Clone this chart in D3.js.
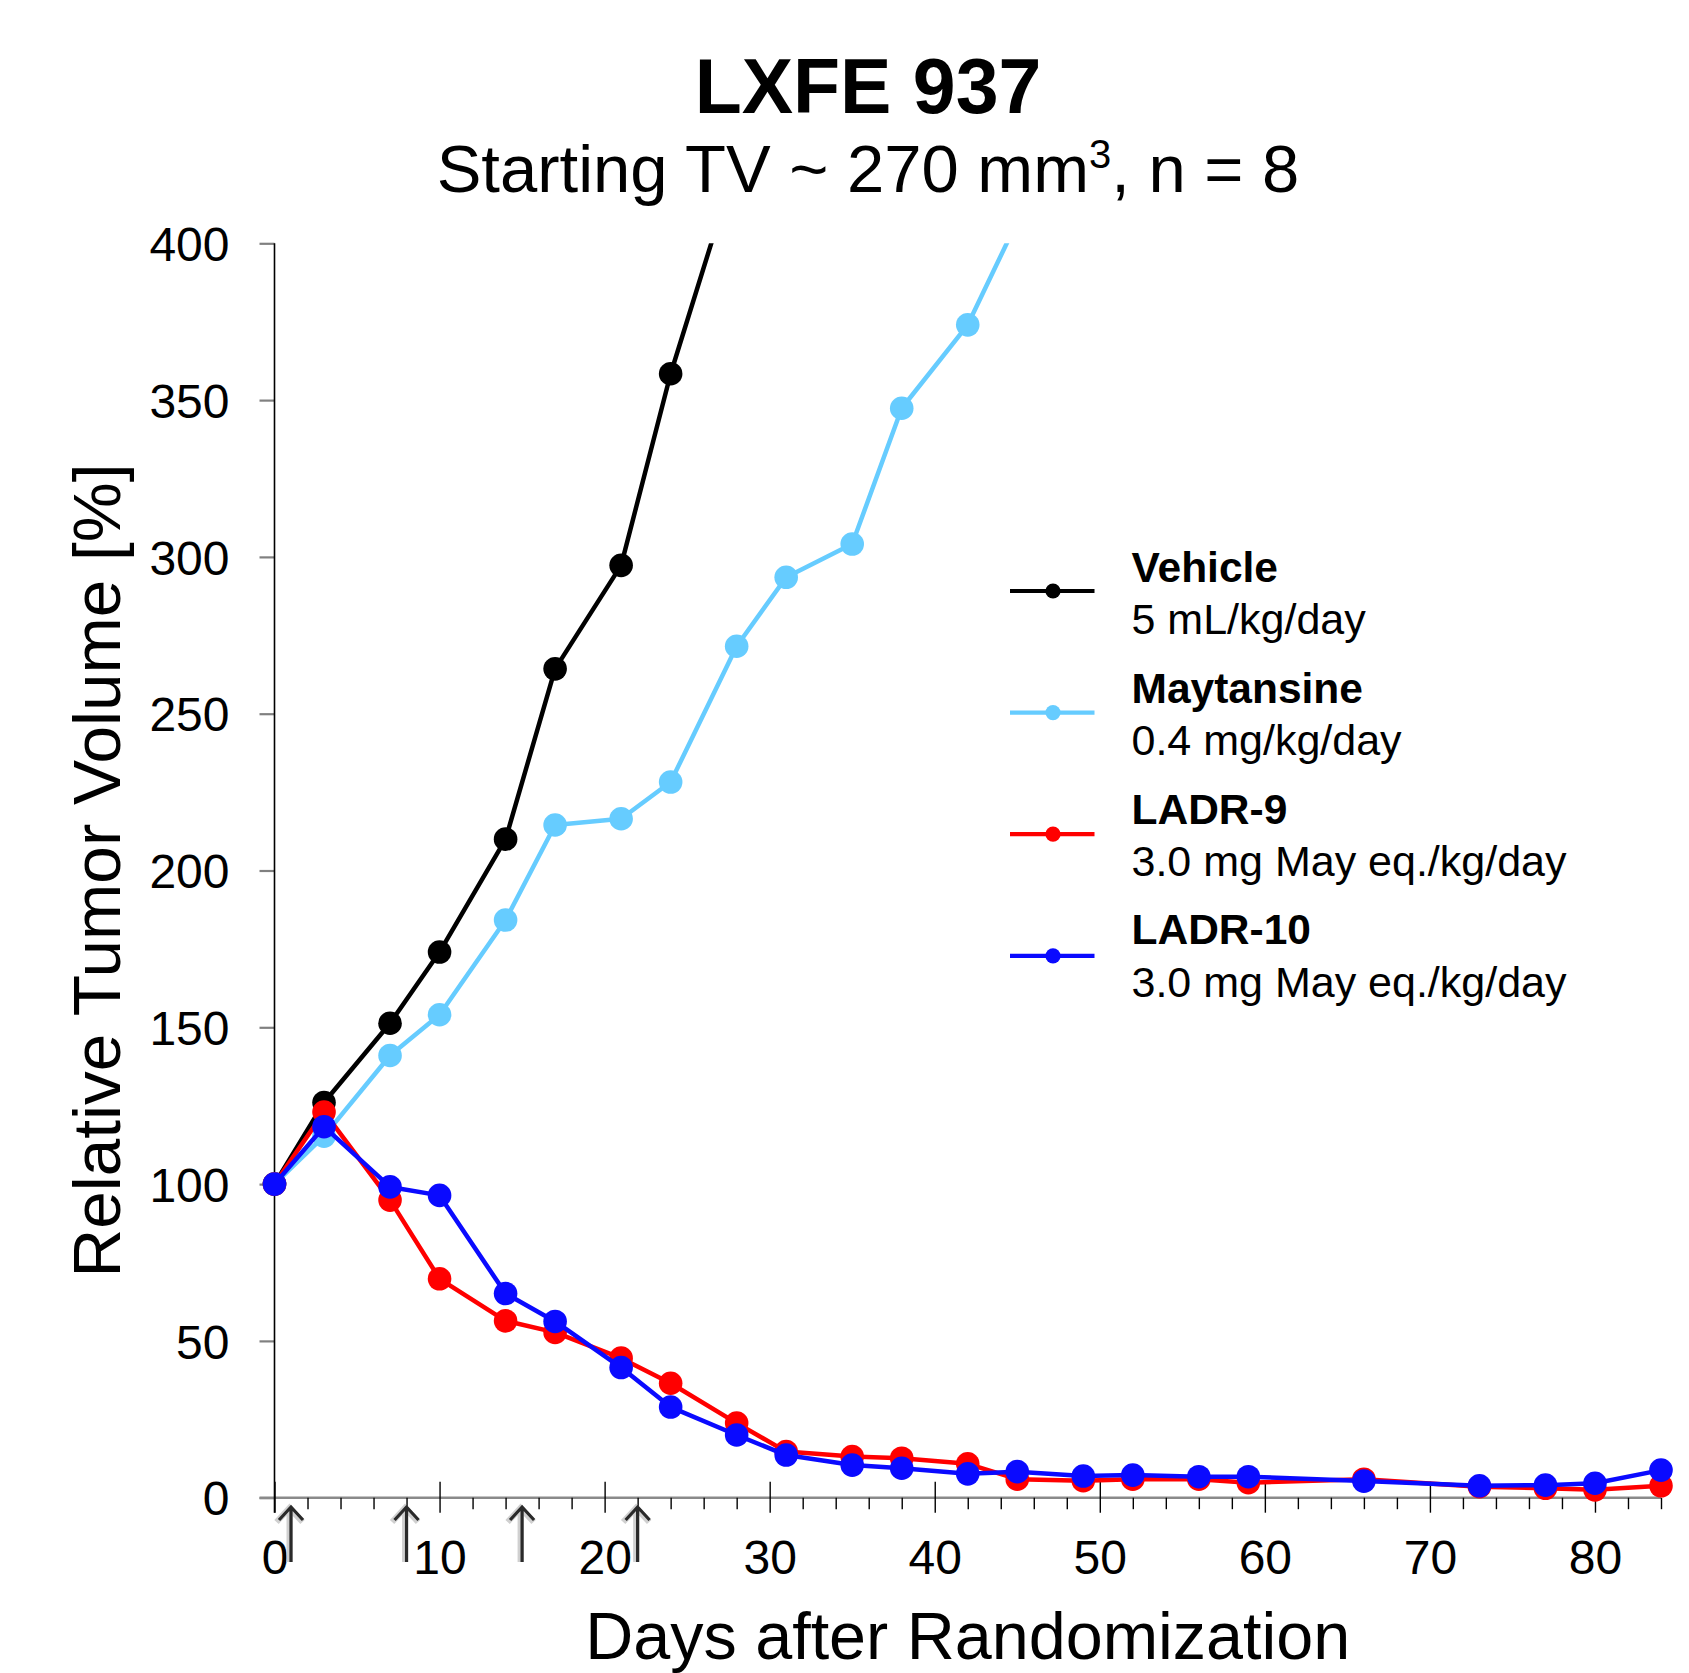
<!DOCTYPE html>
<html><head><meta charset="utf-8">
<script src="https://cdn.jsdelivr.net/npm/d3@7"></script>
<style>
body{margin:0;background:#fff}
svg{display:block}
text{font-family:"Liberation Sans",Arial,Helvetica,sans-serif;fill:#000}
</style>
</head><body>
<svg id="c" width="1689" height="1673"></svg>
<script>
// ---------------- data ----------------
const titleText = "LXFE 937";
const xTitle = "Days after Randomization";
const yTitle = "Relative Tumor Volume [%]";

const seriesNames = ["Vehicle", "Maytansine", "LADR-9", "LADR-10"];
const seriesDoses = ["5 mL/kg/day", "0.4 mg/kg/day", "3.0 mg May eq./kg/day", "3.0 mg May eq./kg/day"];
const seriesColors = ["#000000", "#66ccff", "#ff0000", "#0a0aff"];

const vehicleDays   = [0, 3, 7, 10, 14, 17, 21, 24, 28];
const vehicleValues = [100, 126, 151.3, 174, 210, 264.3, 297.3, 358.4, 426];

const maytansineDays   = [0, 3, 7, 10, 14, 17, 21, 24, 28, 31, 35, 38, 42, 45];
const maytansineValues = [100, 115.3, 141, 154, 184.2, 214.5, 216.5, 228.2, 271.5, 293.5, 304.1, 347.4, 374, 407];

const ladrDays = [0, 3, 7, 10, 14, 17, 21, 24, 28, 31, 35, 38, 42, 45, 49, 52, 56, 59, 66, 73, 77, 80, 84];
const ladr9Values  = [100, 123, 94.9, 69.8, 56.4, 52.7, 44.5, 36.5, 23.8, 14.7, 13.1, 12.6, 10.8, 5.9, 5.4, 5.9, 5.9, 4.8, 5.9, 3.5, 3.0, 2.5, 3.8];
const ladr10Values = [100, 118.3, 99.1, 96.4, 65.1, 56.2, 41.5, 28.9, 20.0, 13.6, 10.4, 9.4, 7.6, 8.3, 6.9, 7.2, 6.7, 6.7, 5.3, 3.8, 4.0, 4.6, 8.8];

const doseDays = [1, 8, 15, 22];

const xMajorTicks = [0, 10, 20, 30, 40, 50, 60, 70, 80];
const xMinorTicks = d3.range(2, 85, 2).filter(d => d % 10 !== 0);
const yTicks = [0, 50, 100, 150, 200, 250, 300, 350, 400];

// ---------------- layout ----------------
const svg = d3.select("#c");
const x = d3.scaleLinear().domain([0, 84]).range([274.5, 1661]);
const y = d3.scaleLinear().domain([0, 400]).range([1497.7, 243.3]);

const series = [
  {days: vehicleDays, values: vehicleValues},
  {days: maytansineDays, values: maytansineValues},
  {days: ladrDays, values: ladr9Values},
  {days: ladrDays, values: ladr10Values}
].map((s, i) => ({
  name: seriesNames[i], dose: seriesDoses[i], color: seriesColors[i],
  pts: s.days.map((d, j) => ({day: d, v: s.values[j]}))
}));

svg.append("defs").append("clipPath").attr("id", "plotclip")
  .append("rect").attr("x", 150).attr("y", y(400)).attr("width", 1539).attr("height", 1673 - y(400));

// Titles
svg.append("text").attr("x", 868).attr("y", 113).attr("text-anchor", "middle")
  .attr("font-size", 77).attr("font-weight", "bold").text(titleText);
const sub = svg.append("text").attr("x", 868).attr("y", 192).attr("text-anchor", "middle").attr("font-size", 67);
sub.append("tspan").text("Starting TV ~ 270 mm");
sub.append("tspan").attr("font-size", 40).attr("dy", -24).text("3");
sub.append("tspan").attr("dy", 24).text(", n = 8");

// Y axis
const yAxis = d3.axisLeft(y).tickValues(yTicks).tickSize(15).tickPadding(30);
const gy = svg.append("g").attr("transform", `translate(${x(0)},0)`).call(yAxis);
gy.attr("font-family", null).attr("font-size", null);
gy.select(".domain").remove();
gy.selectAll(".tick line").attr("stroke", "#808080").attr("stroke-width", 2.2);
gy.selectAll(".tick text").attr("font-size", 48).attr("dy", "0.36em").attr("fill", "#000");

// X axis line (gray)
svg.append("line").attr("x1", x(0) - 15).attr("x2", x(84)).attr("y1", y(0)).attr("y2", y(0))
  .attr("stroke", "#8a8a8a").attr("stroke-width", 2.6);

// minor x ticks
const gxm = svg.append("g").attr("transform", `translate(0,${y(0)})`)
  .call(d3.axisBottom(x).tickValues(xMinorTicks).tickSize(11.5).tickFormat(""));
gxm.select(".domain").remove();
gxm.selectAll(".tick line").attr("stroke", "#000").attr("stroke-width", 1.4);

// major x ticks
const gx = svg.append("g").attr("transform", `translate(0,${y(0)})`)
  .call(d3.axisBottom(x).tickValues(xMajorTicks).tickSize(15).tickPadding(10));
gx.attr("font-family", null).attr("font-size", null);
gx.select(".domain").remove();
gx.selectAll(".tick line").attr("y1", -16).attr("stroke", "#000").attr("stroke-width", 1.4);
gx.selectAll(".tick text").attr("font-size", 48).attr("y", 76.5).attr("dy", 0).attr("fill", "#000");

// Y axis line (black)
svg.append("line").attr("x1", x(0)).attr("x2", x(0)).attr("y1", y(400)).attr("y2", y(0) + 15)
  .attr("stroke", "#000").attr("stroke-width", 1.6);

// Dose arrows
const ga = svg.append("g");
doseDays.forEach(d => {
  const cx = x(d);
  ga.append("path").attr("d", `M${cx - 1.5},1562V1509M${cx - 14.5},1522L${cx - 1.5},1508L${cx + 11.5},1522`)
    .attr("fill", "none").attr("stroke", "#d0d0d0").attr("stroke-width", 6);
  ga.append("path").attr("d", `M${cx},1562V1507M${cx - 12},1520L${cx},1507L${cx + 12},1520`)
    .attr("fill", "none").attr("stroke", "#2a2a2a").attr("stroke-width", 3.2);
});

// Axis titles
svg.append("text").attr("x", (x(0) + x(84)) / 2).attr("y", 1659).attr("text-anchor", "middle")
  .attr("font-size", 66.5).text(xTitle);
svg.append("text").attr("transform", `translate(120,${(y(0) + y(400)) / 2}) rotate(-90)`)
  .attr("text-anchor", "middle").attr("font-size", 67.5).text(yTitle);

// Series
const line = d3.line().x(d => x(d.day)).y(d => y(d.v));
const gp = svg.append("g").attr("clip-path", "url(#plotclip)");
series.forEach(s => {
  const g = gp.append("g");
  g.append("path").datum(s.pts).attr("d", line).attr("fill", "none")
    .attr("stroke", s.color).attr("stroke-width", 4.5).attr("stroke-linejoin", "round");
  g.selectAll("circle").data(s.pts).join("circle")
    .attr("cx", d => x(d.day)).attr("cy", d => y(d.v)).attr("r", 11.8).attr("fill", s.color);
});

// Legend
const gl = svg.append("g");
series.forEach((s, i) => {
  const ly = 591 + i * 121.6;
  gl.append("line").attr("x1", 1010).attr("x2", 1094.5).attr("y1", ly).attr("y2", ly)
    .attr("stroke", s.color).attr("stroke-width", 4.2);
  gl.append("circle").attr("cx", 1053).attr("cy", ly).attr("r", 7.6).attr("fill", s.color);
  gl.append("text").attr("x", 1131.5).attr("y", 582 + i * 120.8).attr("font-size", 42.5)
    .attr("font-weight", "bold").text(s.name);
  gl.append("text").attr("x", 1131.5).attr("y", 633.5 + i * 121.1).attr("font-size", 43).text(s.dose);
});
</script>
</body></html>
